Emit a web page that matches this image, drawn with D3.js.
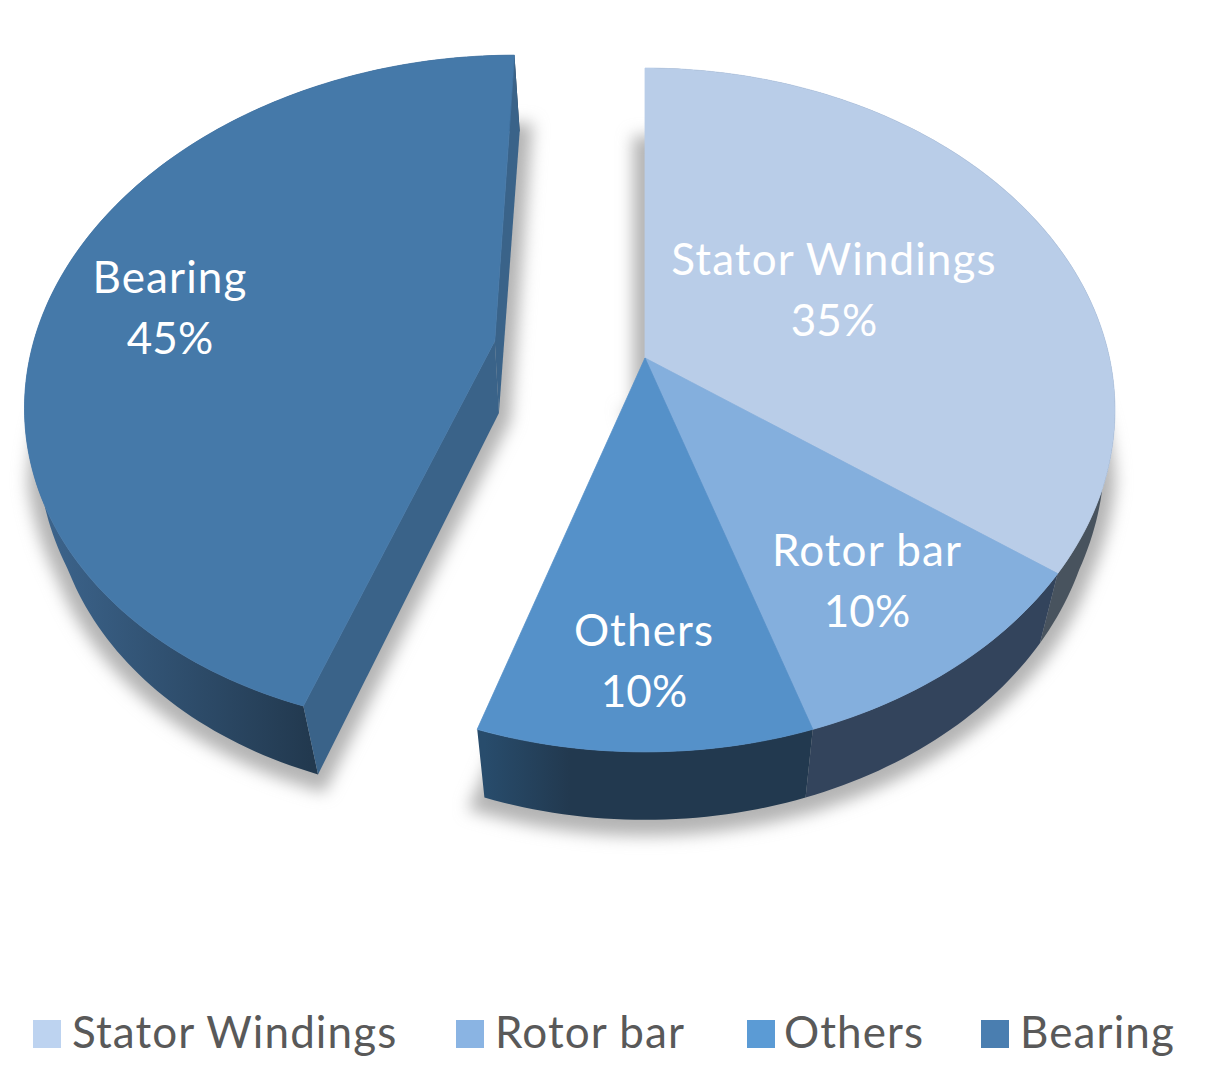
<!DOCTYPE html>
<html lang="en">
<head>
    <meta charset="UTF-8">
    <title>Motor failure share</title>
    <script src="https://cdnjs.cloudflare.com/ajax/libs/d3/7.8.5/d3.min.js"></script>
    <style>
        html, body { margin: 0; padding: 0; background: #fff; }
        svg { display: block; }
        text { font-family: Lato, "Open Sans", sans-serif; }
    </style>
</head>
<body>
    <script>
        var w = 1205;
        var h = 1092;

        // data
        var categories = ["Stator Windings", "Rotor bar", "Others", "Bearing"];
        var shares = [35, 10, 10, 45];
        var exploded = [0, 0, 0, 0.33];

        // colours
        var topColors = ["#b9cde8", "#84afdd", "#5591c9", "#4579a9"];
        var legendColors = ["#bdd3f0", "#8ab4e3", "#5b9bd5", "#4a7eb0"];
        var sideStops = [["#48535e", "#48535e"], ["#33445c", "#33445c"], ["#284c6c", "#22394f"], ["#3c648c", "#22394f"]];
        var cutColor = "#3a6389";

        // label + legend layout
        var labelX = [834, 867, 644, 170];
        var labelY = [275, 566, 646, 293];
        var legendSwatchX = [33, 456, 747, 981];
        var legendTextX = [72, 495, 784, 1020];

        // perspective of the disc: k is the foreshortening towards the viewer
        var k = 0.152;
        var x = d3.scaleLinear().domain([-1, 1]).range([645 - 464.5, 645 + 464.5]);
        var y = d3.scaleLinear().domain([-1, 1]).range([358 - 334, 358 + 334]);
        // lower face is a bit narrower than the top one and sits lower
        var shrink = d3.scaleLinear().domain([-1.05, 0.15, 0.4, 1]).range([0.96, 0.975, 0.957, 0.957]);
        var depth = d3.scaleLinear().domain([-1.05, 1]).range([76, 68]);

        function project(u, v, low) {
            var s = 1 - k * v;
            if (low) return [645 + (x(u / s) - 645) * shrink(v), y(v / s) + depth(v)];
            return [x(u / s), y(v / s)];
        }

        var pie = d3.pie().sort(null).value(function(d) { return d; });
        var slices = pie(shares);
        var line = d3.line();

        // outer edge of a slice in disc coordinates
        function rim(d, i, low) {
            var mid = (d.startAngle + d.endAngle) / 2;
            var du = exploded[i] * Math.sin(mid);
            var dv = -exploded[i] * Math.cos(mid);
            var n = Math.ceil((d.endAngle - d.startAngle) / 0.02);
            return d3.range(n + 1).map(function(j) {
                var a = d.startAngle + (d.endAngle - d.startAngle) * j / n;
                return project(Math.sin(a) + du, -Math.cos(a) + dv, low);
            });
        }

        function apex(d, i, low) {
            var mid = (d.startAngle + d.endAngle) / 2;
            return project(exploded[i] * Math.sin(mid), -exploded[i] * Math.cos(mid), low);
        }

        var svg = d3.select("body").append("svg").attr("width", w).attr("height", h);
        var defs = svg.append("defs");

        var blur = defs.append("filter").attr("id", "shadow")
            .attr("x", "-20%").attr("y", "-20%").attr("width", "140%").attr("height", "140%");
        blur.append("feGaussianBlur").attr("stdDeviation", 8);

        slices.forEach(function(d, i) {
            var pts = rim(d, i, true);
            var g = defs.append("linearGradient").attr("id", "side" + i)
                .attr("gradientUnits", "userSpaceOnUse")
                .attr("x1", i == 3 ? 45 : d3.min(pts, function(p) { return p[0]; }))
                .attr("x2", i == 3 ? 310 : 570)
                .attr("y1", 0).attr("y2", 0);
            g.append("stop").attr("offset", 0).attr("stop-color", sideStops[i][0]);
            g.append("stop").attr("offset", 1).attr("stop-color", sideStops[i][1]);
        });

        // soft shadow under the lower face
        svg.append("g").attr("filter", "url(#shadow)").selectAll("path")
            .data(slices)
            .enter()
            .append("path")
            .attr("d", function(d, i) {
                return line([apex(d, i, true)].concat(rim(d, i, true))) + "Z";
            })
            .attr("transform", "translate(0,4)")
            .attr("fill", "#b4b4b4")
            .attr("stroke", "#b4b4b4")
            .attr("stroke-width", 24);

        // rims
        svg.selectAll("path.side")
            .data(slices)
            .enter()
            .append("path")
            .attr("class", "side")
            .attr("d", function(d, i) {
                return line(rim(d, i, false).concat(rim(d, i, true).reverse())) + "Z";
            })
            .attr("fill", function(d, i) { return "url(#side" + i + ")"; });

        // cut faces of the pulled-out slice
        var pulled = slices.filter(function(d, i) { return exploded[i] > 0; });
        pulled.forEach(function(d) {
            var i = slices.indexOf(d);
            var hi = rim(d, i, false);
            var lo = rim(d, i, true);
            [0, hi.length - 1].forEach(function(e) {
                svg.append("path")
                    .attr("d", line([apex(d, i, false), hi[e], lo[e], apex(d, i, true)]) + "Z")
                    .attr("fill", cutColor);
            });
        });

        // top faces
        svg.selectAll("path.top")
            .data(slices)
            .enter()
            .append("path")
            .attr("class", "top")
            .attr("d", function(d, i) {
                return line([apex(d, i, false)].concat(rim(d, i, false))) + "Z";
            })
            .attr("fill", function(d, i) { return topColors[i]; })
            .attr("stroke", function(d, i) { return topColors[i]; })
            .attr("stroke-width", 0.8);

        // data labels
        var labels = svg.selectAll("g.label")
            .data(slices)
            .enter()
            .append("g")
            .attr("class", "label")
            .attr("text-anchor", "middle")
            .attr("fill", "#fff")
            .attr("font-size", 44);
        labels.append("text")
            .attr("x", function(d, i) { return labelX[i]; })
            .attr("y", function(d, i) { return labelY[i]; })
            .attr("letter-spacing", 1.1)
            .text(function(d, i) { return categories[i]; });
        labels.append("text")
            .attr("x", function(d, i) { return labelX[i]; })
            .attr("y", function(d, i) { return labelY[i] + 61; })
            .text(function(d) { return d.value + "%"; });

        // legend
        var legend = svg.selectAll("g.legend")
            .data(categories)
            .enter()
            .append("g")
            .attr("class", "legend");
        legend.append("rect")
            .attr("x", function(d, i) { return legendSwatchX[i]; })
            .attr("y", 1020)
            .attr("width", 28)
            .attr("height", 28)
            .attr("fill", function(d, i) { return legendColors[i]; });
        legend.append("text")
            .attr("x", function(d, i) { return legendTextX[i]; })
            .attr("y", 1048)
            .attr("font-size", 44)
            .attr("letter-spacing", 1.1)
            .attr("fill", "#595959")
            .text(function(d) { return d; });
    </script>
</body>
</html>
